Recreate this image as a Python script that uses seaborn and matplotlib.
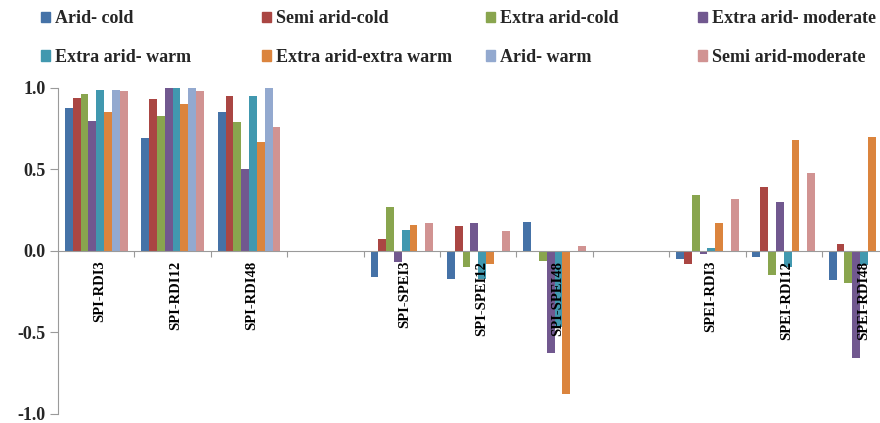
import numpy as np
import pandas as pd
import matplotlib
matplotlib.use("Agg")
import matplotlib.pyplot as plt
import seaborn as sns

categories = ["SPI-RDI3", "SPI-RDI12", "SPI-RDI48",
              "SPI-SPEI3", "SPI-SPEI12", "SPI-SPEI48",
              "SPEI-RDI3", "SPEI-RDI12", "SPEI-RDI48"]
# empty slots between the three groups
order = categories[:3] + ["gap1"] + categories[3:6] + ["gap2"] + categories[6:]

series = ["Arid- cold", "Semi arid-cold", "Extra arid-cold", "Extra arid- moderate",
          "Extra arid- warm", "Extra arid-extra warm", "Arid- warm", "Semi arid-moderate"]

arid_cold = [0.88, 0.69, 0.85, -0.16, -0.17, 0.18, -0.05, -0.04, -0.18]
semi_arid_cold = [0.94, 0.93, 0.95, 0.07, 0.15, -0.01, -0.08, 0.39, 0.04]
extra_arid_cold = [0.96, 0.83, 0.79, 0.27, -0.10, -0.06, 0.34, -0.15, -0.20]
extra_arid_moderate = [0.80, 1.00, 0.50, -0.07, 0.17, -0.63, -0.02, 0.30, -0.66]
extra_arid_warm = [0.99, 1.00, 0.95, 0.13, -0.17, -0.47, 0.02, -0.10, -0.09]
extra_arid_extra_warm = [0.85, 0.90, 0.67, 0.16, -0.08, -0.88, 0.17, 0.68, 0.70]
arid_warm = [0.99, 1.00, 1.00, 0.0, 0.0, 0.0, 0.0, 0.0, 0.0]
semi_arid_moderate = [0.98, 0.98, 0.76, 0.17, 0.12, 0.03, 0.32, 0.48, 0.0]

colors = ["#4572A7", "#AA4643", "#89A54E", "#71588F",
          "#4198AF", "#DB843D", "#93A9CF", "#D19392"]

all_values = [arid_cold, semi_arid_cold, extra_arid_cold, extra_arid_moderate,
              extra_arid_warm, extra_arid_extra_warm, arid_warm, semi_arid_moderate]
rows = []
for name, vals in zip(series, all_values):
    for cat, v in zip(categories, vals):
        rows.append({"index": cat, "zone": name, "r": v})
df = pd.DataFrame(rows)

sns.set_style("white")
plt.rcParams["font.family"] = ["Liberation Serif", "DejaVu Serif"]
plt.rcParams["font.weight"] = "bold"

fig = plt.figure(figsize=(8.8, 4.23), dpi=100)
ax = fig.add_axes([0.066, 0.022, 0.934, 0.770])

sns.barplot(data=df, x="index", y="r", hue="zone", order=order, hue_order=series,
            palette=colors, width=0.82, saturation=1, linewidth=0, ax=ax, legend=False)

ax.set_ylim(-1.0, 1.0)
ax.set_xlim(-0.5, 10.26)
ax.set_yticks([-1.0, -0.5, 0.0, 0.5, 1.0])
ax.set_yticklabels(["-1.0", "-0.5", "0.0", "0.5", "1.0"], fontsize=13, fontweight="bold")
ax.set_xticks(np.arange(0.5, 10.5, 1.0))
ax.set_xticklabels([])
ax.set_xlabel("")
ax.set_ylabel("")

for s in ["top", "right"]:
    ax.spines[s].set_visible(False)
ax.spines["left"].set_color("#9a9a9a")
ax.spines["bottom"].set_color("#9a9a9a")
ax.spines["bottom"].set_position(("data", 0))
ax.tick_params(axis="y", direction="out", length=6, color="#9a9a9a", left=True, pad=3)
ax.tick_params(axis="x", direction="out", length=4, color="#9a9a9a", bottom=True)

for i, cat in enumerate(order):
    if cat.startswith("gap"):
        continue
    ax.text(i + 0.04, -0.06, cat, rotation=90, ha="center", va="top",
            fontsize=10.5, fontweight="bold", color="black")

# legend: 4 columns, 2 rows, filled row by row
col_x = [41, 262, 486, 698]
for k, x in enumerate(col_x):
    idx = [k, k + 4]
    handles = [plt.Rectangle((0, 0), 1, 1, color=colors[j]) for j in idx]
    fig.legend(handles, [series[j] for j in idx], loc="center left",
               bbox_to_anchor=(x / 880, 1 - 38 / 423), frameon=False,
               prop={"family": "Liberation Serif", "weight": "bold", "size": 13},
               handlelength=0.5, handleheight=0.5, handletextpad=0.3,
               labelspacing=1.2, borderpad=0, borderaxespad=0)

fig.savefig("out.png", dpi=100)
